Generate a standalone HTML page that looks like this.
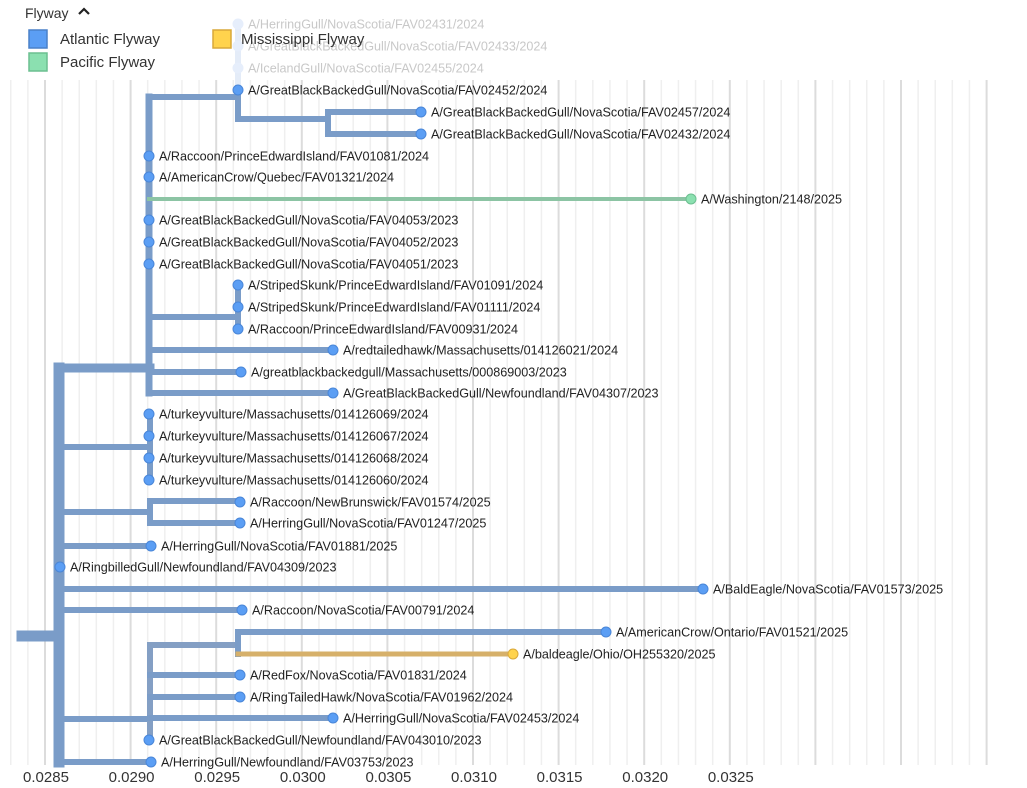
<!DOCTYPE html>
<html><head><meta charset="utf-8"><style>
html,body{margin:0;padding:0;background:#fff;width:1027px;height:788px;overflow:hidden}
svg{display:block;font-family:"Liberation Sans",sans-serif}
</style></head><body>
<svg width="1027" height="788" viewBox="0 0 1027 788" xmlns="http://www.w3.org/2000/svg">
<g id="grid"></g>
<g stroke="#7a9cc8" fill="none" stroke-linecap="square">
<line x1="22" y1="636" x2="58" y2="636" stroke-width="11"/>
<line x1="59" y1="368" x2="59" y2="762" stroke-width="11"/>
<line x1="59" y1="368" x2="150" y2="368" stroke-width="9"/>
<line x1="59" y1="447" x2="150" y2="447" stroke-width="6"/>
<line x1="59" y1="512" x2="150" y2="512" stroke-width="6"/>
<line x1="59" y1="546" x2="150" y2="546" stroke-width="6"/>
<line x1="59" y1="589" x2="703" y2="589" stroke-width="6"/>
<line x1="59" y1="610" x2="242" y2="610" stroke-width="6"/>
<line x1="59" y1="719" x2="150" y2="719" stroke-width="6"/>
<line x1="59" y1="762" x2="151" y2="762" stroke-width="6"/>
<line x1="149" y1="97" x2="149" y2="393" stroke-width="7"/>
<line x1="149" y1="97" x2="238" y2="97" stroke-width="6"/>
<line x1="238" y1="89" x2="238" y2="119" stroke-width="6"/>
<line x1="238" y1="24" x2="238" y2="89" stroke-width="6" stroke="#e4ecf8"/>
<line x1="238" y1="119" x2="328" y2="119" stroke-width="6"/>
<line x1="328" y1="112" x2="328" y2="134" stroke-width="6"/>
<line x1="328" y1="112" x2="421" y2="112" stroke-width="6"/>
<line x1="328" y1="134" x2="421" y2="134" stroke-width="6"/>
<line x1="149" y1="199" x2="691" y2="199" stroke-width="4" stroke="#8cc4a4"/>
<line x1="149" y1="317" x2="238" y2="317" stroke-width="6"/>
<line x1="238" y1="285" x2="238" y2="329" stroke-width="6"/>
<line x1="149" y1="350" x2="333" y2="350" stroke-width="6"/>
<line x1="149" y1="372" x2="241" y2="372" stroke-width="6"/>
<line x1="149" y1="393" x2="333" y2="393" stroke-width="6"/>
<line x1="150" y1="414" x2="150" y2="480" stroke-width="6"/>
<line x1="150" y1="501" x2="150" y2="523" stroke-width="6"/>
<line x1="150" y1="501" x2="240" y2="501" stroke-width="6"/>
<line x1="150" y1="523" x2="240" y2="523" stroke-width="6"/>
<line x1="150" y1="645" x2="150" y2="740" stroke-width="6" stroke="#849fc4"/>
<line x1="150" y1="645" x2="238" y2="645" stroke-width="6" stroke="#849fc4"/>
<line x1="238" y1="632" x2="238" y2="654" stroke-width="6"/>
<line x1="238" y1="632" x2="606" y2="632" stroke-width="6"/>
<line x1="238" y1="654" x2="513" y2="654" stroke-width="5" stroke="#d6b06a"/>
<line x1="150" y1="675" x2="240" y2="675" stroke-width="6"/>
<line x1="150" y1="697" x2="240" y2="697" stroke-width="6"/>
<line x1="150" y1="718" x2="333" y2="718" stroke-width="6"/>
</g>
<g id="nodes"></g>
<g id="labels" font-size="12.6" fill="#222"></g>
<text x="25" y="18" font-size="14" fill="#333">Flyway</text>
<path d="M79 14 L84 9 L89 14" stroke="#222" stroke-width="2.2" fill="none"/>
<rect x="29" y="30" width="18" height="18" fill="#5b9ef4" stroke="#4a80c8" stroke-width="1.5"/>
<text x="60" y="44" font-size="15" fill="#333">Atlantic Flyway</text>
<rect x="29" y="53" width="18" height="18" fill="#8be0b0" stroke="#6cbf90" stroke-width="1.5"/>
<text x="60" y="67" font-size="15" fill="#333">Pacific Flyway</text>
<rect x="213" y="30" width="18" height="18" fill="#ffd34d" stroke="#d9a83a" stroke-width="1.5"/>
<text x="241" y="44" font-size="15" fill="#333">Mississippi Flyway</text>
<g id="axis" font-size="15" fill="#333" text-anchor="middle"></g>
<script>
var ns="http://www.w3.org/2000/svg";
function el(p,t,a,txt){var e=document.createElementNS(ns,t);for(var k in a)e.setAttribute(k,a[k]);if(txt)e.textContent=txt;document.getElementById(p).appendChild(e);}
for(var i=-2;i<=56;i++){var x=45+17.12*i;if(x<5||x>1000)continue;var maj=(i%5==0);
el("grid","line",{x1:x,y1:80,x2:x,y2:765,stroke:maj?"#dcdcdc":"#efefef","stroke-width":maj?2:1.5});}
var ax=["0.0285","0.0290","0.0295","0.0300","0.0305","0.0310","0.0315","0.0320","0.0325"];
ax.forEach(function(t,i){el("axis","text",{x:46+85.6*i,y:782},t);});
var N=[
[238,24,"A/HerringGull/NovaScotia/FAV02431/2024",1],
[238,46,"A/GreatBlackBackedGull/NovaScotia/FAV02433/2024",1],
[238,68,"A/IcelandGull/NovaScotia/FAV02455/2024",1],
[238,90,"A/GreatBlackBackedGull/NovaScotia/FAV02452/2024"],
[421,112,"A/GreatBlackBackedGull/NovaScotia/FAV02457/2024"],
[421,134,"A/GreatBlackBackedGull/NovaScotia/FAV02432/2024"],
[149,156,"A/Raccoon/PrinceEdwardIsland/FAV01081/2024"],
[149,177,"A/AmericanCrow/Quebec/FAV01321/2024"],
[691,199,"A/Washington/2148/2025",2],
[149,220,"A/GreatBlackBackedGull/NovaScotia/FAV04053/2023"],
[149,242,"A/GreatBlackBackedGull/NovaScotia/FAV04052/2023"],
[149,264,"A/GreatBlackBackedGull/NovaScotia/FAV04051/2023"],
[238,285,"A/StripedSkunk/PrinceEdwardIsland/FAV01091/2024"],
[238,307,"A/StripedSkunk/PrinceEdwardIsland/FAV01111/2024"],
[238,329,"A/Raccoon/PrinceEdwardIsland/FAV00931/2024"],
[333,350,"A/redtailedhawk/Massachusetts/014126021/2024"],
[241,372,"A/greatblackbackedgull/Massachusetts/000869003/2023"],
[333,393,"A/GreatBlackBackedGull/Newfoundland/FAV04307/2023"],
[149,414,"A/turkeyvulture/Massachusetts/014126069/2024"],
[149,436,"A/turkeyvulture/Massachusetts/014126067/2024"],
[149,458,"A/turkeyvulture/Massachusetts/014126068/2024"],
[149,480,"A/turkeyvulture/Massachusetts/014126060/2024"],
[240,502,"A/Raccoon/NewBrunswick/FAV01574/2025"],
[240,523,"A/HerringGull/NovaScotia/FAV01247/2025"],
[151,546,"A/HerringGull/NovaScotia/FAV01881/2025"],
[60,567,"A/RingbilledGull/Newfoundland/FAV04309/2023"],
[703,589,"A/BaldEagle/NovaScotia/FAV01573/2025"],
[242,610,"A/Raccoon/NovaScotia/FAV00791/2024"],
[606,632,"A/AmericanCrow/Ontario/FAV01521/2025"],
[513,654,"A/baldeagle/Ohio/OH255320/2025",3],
[240,675,"A/RedFox/NovaScotia/FAV01831/2024"],
[240,697,"A/RingTailedHawk/NovaScotia/FAV01962/2024"],
[333,718,"A/HerringGull/NovaScotia/FAV02453/2024"],
[149,740,"A/GreatBlackBackedGull/Newfoundland/FAV043010/2023"],
[151,762,"A/HerringGull/Newfoundland/FAV03753/2023"]];
N.forEach(function(n){var f=n[3];
var fill=f==1?"#e6eefb":f==2?"#8be0b0":f==3?"#ffd34d":"#5b9ef4";
var st=f==1?"#e6eefb":f==2?"#6cbf90":f==3?"#d9a83a":"#4a86d8";
el("nodes","circle",{cx:n[0],cy:n[1],r:5,fill:fill,stroke:st,"stroke-width":1});
el("labels","text",{x:n[0]+10,y:n[1]+4.5,fill:f==1?"#c8c8c8":"#222"},n[2]);});
</script>
</svg>
</body></html>
